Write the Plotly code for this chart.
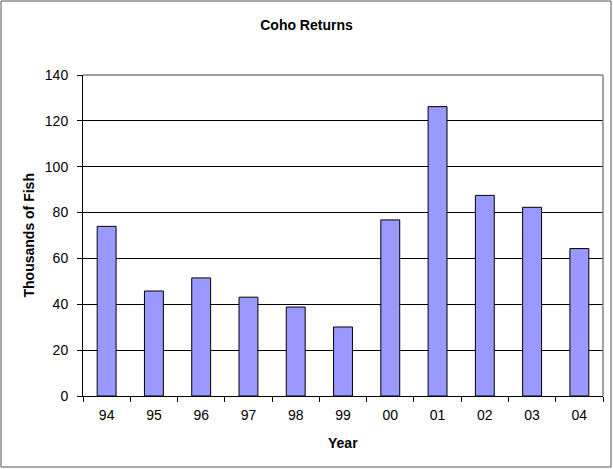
import plotly.graph_objects as go

years = ["94", "95", "96", "97", "98", "99", "00", "01", "02", "03", "04"]
returns = [74.0, 45.8, 51.5, 43.1, 38.8, 30.1, 76.8, 126.2, 87.5, 82.3, 64.3]

font = "Liberation Sans, Arial, sans-serif"

fig = go.Figure(go.Bar(
    x=years, y=returns,
    marker=dict(color="#9999FF", line=dict(color="black", width=1)),
))

fig.update_layout(
    width=613, height=469,
    margin=dict(l=83, r=10, t=75, b=73, autoexpand=False),
    paper_bgcolor="white", plot_bgcolor="white",
    font=dict(family=font, size=14, color="black"),
    bargap=0.6,
    showlegend=False,
    title=dict(text="<b>Coho Returns</b>", x=0.5, xref="container", xanchor="center",
               y=1 - 25 / 469, yref="container", yanchor="middle",
               font=dict(size=14, family=font)),
)

fig.update_xaxes(
    type="category", showline=True, linecolor="black", linewidth=1,
    ticks="outside", tickson="boundaries", ticklen=5, tickcolor="black",
    showgrid=False, title=None, automargin=False, ticklabelstandoff=6,
)
fig.update_yaxes(
    range=[0, 140], dtick=20, showline=True, linecolor="black", linewidth=1,
    ticks="outside", ticklen=5, tickcolor="black",
    showgrid=True, gridcolor="black", gridwidth=1, zeroline=False, title=None,
    automargin=False, ticklabelstandoff=6,
)

# gray plot-area outline (top/right) and outer chart border
fig.add_shape(type="line", xref="paper", yref="paper", x0=0, x1=1, y0=1, y1=1,
              line=dict(color="#808080", width=1.5), layer="above")
fig.add_shape(type="line", xref="paper", yref="paper", x0=1, x1=1, y0=0, y1=1,
              line=dict(color="#808080", width=1.5), layer="above")
fig.add_shape(type="rect", xref="paper", yref="paper",
              x0=(1 - 83) / 520, x1=(611 - 83) / 520,
              y0=(396 - 467) / 321, y1=(396 - 1) / 321,
              line=dict(color="#555555", width=1), layer="below")

fig.add_annotation(text="<b>Year</b>", xref="paper", yref="paper",
                   x=0.5, y=(396 - 443) / 321, showarrow=False,
                   xanchor="center", yanchor="middle", font=dict(size=14))
fig.add_annotation(text="<b>Thousands of Fish</b>", xref="paper", yref="paper",
                   x=(28 - 83) / 520, y=0.5, textangle=-90, showarrow=False,
                   xanchor="center", yanchor="middle", font=dict(size=14))

fig.write_html("out.html", config={"displayModeBar": False},
               post_script="document.body.style.margin='0';")
